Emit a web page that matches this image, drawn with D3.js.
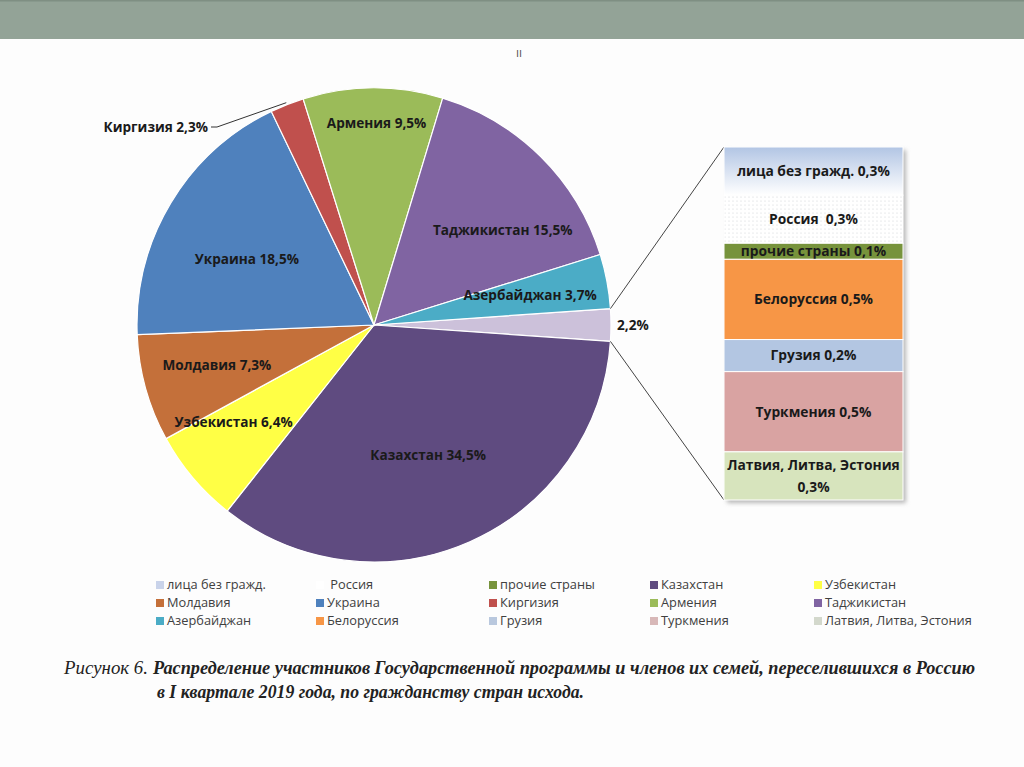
<!DOCTYPE html>
<html><head><meta charset="utf-8">
<script src="https://cdn.jsdelivr.net/npm/d3@7"></script>
<style>
html,body{margin:0;padding:0;background:#fdfdfd;}
svg{display:block;}
</style></head>
<body>
<svg id="chart" width="1024" height="767"></svg>
<script>
// ---- data ----
const pieCategories = ["прочие", "Казахстан", "Узбекистан", "Молдавия", "Украина", "Киргизия", "Армения", "Таджикистан", "Азербайджан"];
const pieValues     = [2.2, 34.5, 6.4, 7.3, 18.5, 2.3, 9.5, 15.5, 3.7];
const pieLabels     = ["2,2%", "Казахстан 34,5%", "Узбекистан 6,4%", "Молдавия 7,3%", "Украина 18,5%", "Киргизия 2,3%", "Армения 9,5%", "Таджикистан 15,5%", "Азербайджан 3,7%"];

const barCategories = ["лица без гражд.", " Россия", "прочие страны", "Белоруссия", "Грузия", "Туркмения", "Латвия, Литва, Эстония"];
const barValues     = [0.3, 0.3, 0.1, 0.5, 0.2, 0.5, 0.3];
const barLabels     = [["лица без гражд. 0,3%"], ["Россия  0,3%"], ["прочие страны 0,1%"], ["Белоруссия 0,5%"], ["Грузия 0,2%"], ["Туркмения 0,5%"], ["Латвия, Литва, Эстония", "0,3%"]];

const legendItems = ["лица без гражд.", " Россия", "прочие страны", "Казахстан", "Узбекистан",
                     "Молдавия", "Украина", "Киргизия", "Армения", "Таджикистан",
                     "Азербайджан", "Белоруссия", "Грузия", "Туркмения", "Латвия, Литва, Эстония"];

const captionLine1a = "Рисунок 6.";
const captionLine1b = "Распределение участников Государственной программы и членов их семей, переселившихся в Россию";
const captionLine2  = "в I квартале 2019 года, по гражданству стран исхода.";

// ---- styles ----
const colors = {
  "прочие": "#ccc1da",
  "Казахстан": "#5f4b80",
  "Узбекистан": "#ffff45",
  "Молдавия": "#c4703a",
  "Украина": "#4f81bd",
  "Киргизия": "#c0504d",
  "Армения": "#9bbb59",
  "Таджикистан": "#8064a2",
  "Азербайджан": "#4bacc6",
  "лица без гражд.": "#c9d3ea",
  " Россия": "#ffffff",
  "прочие страны": "#77933c",
  "Белоруссия": "#f79646",
  "Грузия": "#b3c6e2",
  "Туркмения": "#d9a3a2",
  "Латвия, Литва, Эстония": "#d7e4bd"
};
const legendColors = Object.assign({}, colors, {"Туркмения": "#d8b8b8", "Грузия": "#b9c8de", "Латвия, Литва, Эстония": "#d3d8cc"});
// label placement: radius factor and angular shift (degrees) relative to slice mid-angle
const labelPlace = {
  "Армения": [0.85, 1], "Казахстан": [0.595, 1.3], "Украина": [0.605, -3.5], "Таджикистан": [0.675, 8.8],
  "Азербайджан": [0.67, 0], "Узбекистан": [0.72, 5.5], "Молдавия": [0.684, 1.2]
};

const svg = d3.select("#chart");
const FONT = "'Open Sans', 'Noto Sans', sans-serif";
const LFS = 13.6;

// top band
svg.append("rect").attr("x", 0).attr("y", 0).attr("width", 1024).attr("height", 39).attr("fill", "#93a397");
svg.append("rect").attr("x", 0).attr("y", 0).attr("width", 1024).attr("height", 1.5).attr("fill", "#7f8f83");
svg.append("text").attr("x", 519).attr("y", 57).attr("text-anchor", "middle")
  .attr("font-family", FONT).attr("font-size", 12).attr("fill", "#555").text("ıı");

// ---- pie ----
const cx = 374, cy = 325, R = 237;
const total = d3.sum(pieValues);
const start = Math.PI / 2 - (pieValues[0] / total) * Math.PI;
const pie = d3.pie().sort(null).value(d => d.v).startAngle(start).endAngle(start + 2 * Math.PI);
const pieData = pie(pieCategories.map((c, i) => ({c, v: pieValues[i], label: pieLabels[i]})));
const arc = d3.arc().innerRadius(0).outerRadius(R);
const gPie = svg.append("g").attr("transform", `translate(${cx},${cy})`);
gPie.selectAll("path").data(pieData).join("path")
  .attr("d", arc).attr("fill", d => colors[d.data.c]).attr("stroke", "#fff").attr("stroke-width", 1.2);

function labelText(g, x, y, anchor, t, fs) {
  return g.append("text").attr("x", x).attr("y", y).attr("dy", "0.35em").attr("text-anchor", anchor)
    .style("white-space", "pre")
    .attr("font-family", FONT).attr("font-weight", "bold").attr("font-size", fs || LFS).attr("fill", "#1a1a1a").text(t);
}

// labels inside
pieData.forEach(d => {
  const c = d.data.c;
  if (!labelPlace[c]) return;
  const [f, shift] = labelPlace[c];
  const a = (d.startAngle + d.endAngle) / 2 + shift * Math.PI / 180;
  labelText(gPie, Math.sin(a) * R * f, -Math.cos(a) * R * f, "middle", d.data.label);
});

// outside labels
{
  const dOther = pieData[0];
  const la = d3.arc().innerRadius(R + 22).outerRadius(R + 22);
  const [x, y] = la.centroid(dOther);
  labelText(gPie, x - 16, y, "start", dOther.data.label);

  const dK = pieData[5];
  const mid = (dK.startAngle + dK.endAngle) / 2;
  const px = Math.sin(mid) * (R + 2), py = -Math.cos(mid) * (R + 2);
  const tx = -163, ty = -198;
  gPie.append("path").attr("d", `M${tx},${ty} L${tx + 6},${ty} L${px},${py}`)
    .attr("fill", "none").attr("stroke", "#333").attr("stroke-width", 1);
  labelText(gPie, tx - 3, ty, "end", dK.data.label);
}

// ---- bar of pie ----
const barX = 724, barW = 179, barTop = 147, barBottom = 500;
const yBar = d3.scaleLinear().domain([0, d3.sum(barValues)]).range([barTop, barBottom]);
const cum = [];
barValues.reduce((a, v, i) => { cum[i] = a; return a + v; }, 0);

const defs = svg.append("defs");
const grad = defs.append("linearGradient").attr("id", "gBlue").attr("x1", 0).attr("y1", 0).attr("x2", 0).attr("y2", 1);
grad.append("stop").attr("offset", "0%").attr("stop-color", "#b2c5e4");
grad.append("stop").attr("offset", "100%").attr("stop-color", "#ffffff");
const pat = defs.append("pattern").attr("id", "dots").attr("width", 4).attr("height", 4).attr("patternUnits", "userSpaceOnUse");
pat.append("rect").attr("width", 4).attr("height", 4).attr("fill", "#fff");
pat.append("circle").attr("cx", 1).attr("cy", 1).attr("r", 0.6).attr("fill", "#d0d4d8");
const blur = defs.append("filter").attr("id", "sh").attr("x", -0.1).attr("y", -0.1).attr("width", 1.2).attr("height", 1.2);
blur.append("feGaussianBlur").attr("stdDeviation", 2);

// connectors
const dOther = pieData[0];
const p1 = [cx + Math.sin(dOther.startAngle) * R, cy - Math.cos(dOther.startAngle) * R];
const p2 = [cx + Math.sin(dOther.endAngle) * R, cy - Math.cos(dOther.endAngle) * R];
svg.append("line").attr("x1", p1[0]).attr("y1", p1[1]).attr("x2", barX).attr("y2", barTop).attr("stroke", "#444").attr("stroke-width", 1);
svg.append("line").attr("x1", p2[0]).attr("y1", p2[1]).attr("x2", barX).attr("y2", barBottom).attr("stroke", "#444").attr("stroke-width", 1);

svg.append("rect").attr("x", barX + 3).attr("y", barTop + 3).attr("width", barW).attr("height", barBottom - barTop)
  .attr("fill", "#b8b8b8").attr("filter", "url(#sh)");

const gBar = svg.append("g");
barCategories.forEach((c, i) => {
  let fill = colors[c];
  if (i === 0) fill = "url(#gBlue)";
  if (i === 1) fill = "url(#dots)";
  gBar.append("rect").attr("x", barX).attr("y", yBar(cum[i])).attr("width", barW)
    .attr("height", yBar(cum[i] + barValues[i]) - yBar(cum[i]))
    .attr("fill", fill).attr("stroke", "#fff").attr("stroke-width", 1);
  const yc = (yBar(cum[i]) + yBar(cum[i] + barValues[i])) / 2;
  const lines = barLabels[i];
  lines.forEach((t, k) => {
    labelText(gBar, barX + barW / 2, yc + (k - (lines.length - 1) / 2) * 22, "middle", t, 13.8);
  });
});

// ---- legend ----
const colX = [156, 316, 489, 650, 814];
const rowY = [585, 603, 621];
const gLeg = svg.append("g");
legendItems.forEach((c, i) => {
  const x = colX[i % 5], y = rowY[Math.floor(i / 5)];
  gLeg.append("rect").attr("x", x).attr("y", y - 4).attr("width", 8).attr("height", 8).attr("fill", legendColors[c]);
  gLeg.append("text").attr("x", x + 11).attr("y", y).attr("dy", "0.35em").style("white-space", "pre")
    .attr("font-family", FONT).attr("font-size", 12.8).attr("fill", "#404040").text(c);
});

// ---- caption ----
const SERIF = "'Liberation Serif', 'DejaVu Serif', serif";
svg.append("text").attr("x", 64).attr("y", 674).attr("font-family", SERIF).attr("font-style", "italic")
  .attr("font-size", 18).attr("fill", "#222").attr("textLength", 84).attr("lengthAdjust", "spacingAndGlyphs").text(captionLine1a);
svg.append("text").attr("x", 153).attr("y", 674).attr("font-family", SERIF).attr("font-style", "italic").attr("font-weight", "bold")
  .attr("font-size", 18).attr("fill", "#222").attr("textLength", 822).attr("lengthAdjust", "spacingAndGlyphs").text(captionLine1b);
svg.append("text").attr("x", 157).attr("y", 698).attr("font-family", SERIF).attr("font-style", "italic").attr("font-weight", "bold")
  .attr("font-size", 18).attr("fill", "#222").attr("textLength", 427).attr("lengthAdjust", "spacingAndGlyphs").text(captionLine2);
</script>
</body></html>
